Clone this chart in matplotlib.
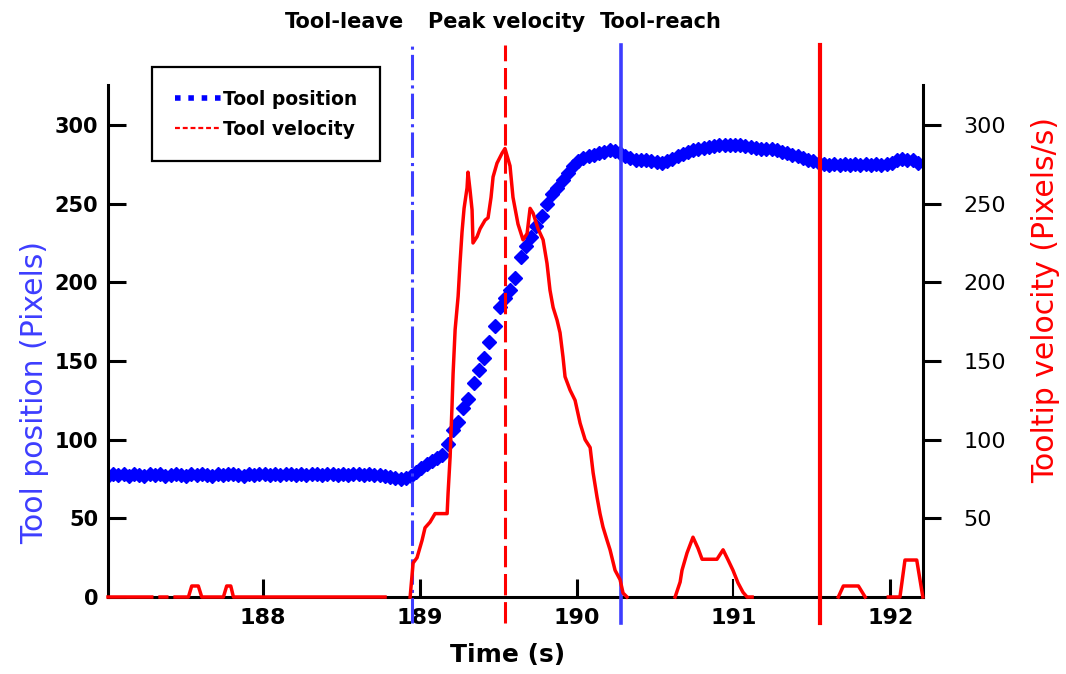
import numpy as np
import matplotlib
matplotlib.use("Agg")
import matplotlib.pyplot as plt
from matplotlib.lines import Line2D
from matplotlib.transforms import blended_transform_factory

nan = float("nan")

# ---------------- data ----------------
# Tool position, sampled at a fixed rate starting at POS_T0 (s)
POS_T0 = 187.01
POS_RATE = 30.0
tool_position = [
    77, 78, 77.5, 78, 77, 78, 77.5, 77, 78, 77.5,
    78, 77, 77.5, 78, 77.5, 77, 78, 77.5, 78, 77.5,
    77, 78, 77.5, 78, 78, 77.5, 77, 78, 77.5, 78,
    78, 77.5, 78, 77.5, 78, 78, 77.5, 78, 77.5, 78,
    78, 77.5, 78, 78, 77.5, 78, 77.5, 78, 78, 77.5,
    78, 77.5, 77.5, 77, 76, 75.5, 75, 75.5, 77, 79.5,
    82, 84.5, 86.5, 88.5, 90, 97, 106, 111, 120, 126,
    136, 144, 152, 162, 172, 184, 190, 195, 203, 216,
    223, 229, 236, 242, 250, 256, 260, 265, 269.5, 274,
    277, 279, 280, 281, 282, 283, 284, 283.5, 282, 280.5,
    279, 278, 277.5, 277.5, 277, 276.5, 276, 277, 278.5, 280,
    281.5, 283, 284, 285, 285.5, 286, 286.5, 287, 287, 287,
    287, 287, 286.5, 286, 285.5, 285, 284.5, 284.5, 284, 283,
    282, 281, 280, 279, 278, 277, 276, 275.5, 274.5, 275,
    274.5, 275, 274.5, 275, 274.5, 275, 274.5, 275, 274.5, 275,
    276, 278, 278.5, 277.5, 278, 276,
]

# Tooltip velocity (time in s, value in pixels/s); NaN separates segments
vel_time = [
    187.011, 187.290, nan,
    187.343, 187.386, nan,
    187.439, 187.524, 187.545, 187.587, 187.609, 187.747, 187.768, 187.794,
    187.811, 188.778, nan,
    188.938, 188.957, 188.982, 189.014, 189.033, 189.065, 189.097, 189.174,
    189.180, 189.193, 189.205, 189.212, 189.225, 189.244, 189.256, 189.269,
    189.282, 189.301, 189.307, 189.320, 189.333, 189.339, 189.365, 189.384,
    189.416, 189.435, 189.454, 189.467, 189.492, 189.524, 189.543, 189.575,
    189.594, 189.626, 189.658, 189.684, 189.703, 189.722, 189.754, 189.786,
    189.811, 189.830, 189.850, 189.875, 189.894, 189.913, 189.926, 189.958,
    189.990, 190.022, 190.054, 190.086, 190.105, 190.130, 190.149, 190.168,
    190.194, 190.213, 190.245, 190.277, 190.296, 190.321, nan,
    190.628, 190.660, 190.672, 190.704, 190.742, 190.774, 190.800, 190.895,
    190.934, 190.966, 190.997, 191.029, 191.061, 191.087, 191.119, nan,
    191.669, 191.701, 191.797, 191.840, nan,
    191.988, 192.062, 192.094, 192.169, 192.208,
]
vel_value = [
    0, 0, nan,
    0, 0, nan,
    0, 0, 7, 7, 0, 0, 7, 7,
    0, 0, nan,
    0, 21.6, 25, 36, 44, 47.6, 53, 53,
    66, 89, 121, 142, 170, 191, 212, 232,
    247, 260, 270, 258.6, 246, 225, 229, 234,
    239.5, 241, 254, 267, 275.7, 282, 285, 274,
    254, 237, 227, 231, 247, 244, 234, 227,
    212, 195, 184, 176, 168, 152.5, 140, 131.5,
    125, 110.5, 100, 95, 79, 63.5, 53, 44.5,
    36, 30, 17, 11, 2.5, 0, nan,
    0, 9.5, 17, 28, 38, 31, 24, 24,
    30, 23.5, 17, 9, 3, 0, 0, nan,
    0, 7, 7, 0, nan,
    0, 0, 23.5, 23.5, 0,
]
assert len(vel_time) == len(vel_value)

# Event markers (s)
t_tool_leave = 188.950
t_peak_velocity = 189.543
t_tool_reach = 190.283
t_end_marker = 191.552

x_ticks = [188, 189, 190, 191, 192]
x_tick_labels = ["188", "189", "190", "191", "192"]
left_ticks = [0, 50, 100, 150, 200, 250, 300]
right_ticks = [50, 100, 150, 200, 250, 300]

# ---------------- figure ----------------
BLUE = "#0000ff"
LINE_BLUE = "#3d3dff"
RED = "#ff0000"

fig = plt.figure(figsize=(10.66, 6.74), dpi=100, facecolor="white")
ax = fig.add_axes([0.10131, 0.11424, 0.76454, 0.75965])
ax2 = ax.twinx()

t_pos = POS_T0 + np.arange(len(tool_position)) / POS_RATE
ax.plot(t_pos, tool_position, linestyle="none", marker="D", ms=7,
        color=BLUE, mec=BLUE, zorder=2)

ax.set_xlim(187.011, 192.209)
ax.set_ylim(0, 325.4)
ax2.set_ylim(0, 325.4)

# vertical event lines (extend beyond the axes box)
y_lo, y_hi = -16.5, 350.9
ax2.plot([t_tool_leave] * 2, [y_lo, y_hi], color=LINE_BLUE, lw=2.2,
         linestyle=(0, (8.3, 1.7, 1.0, 1.7)), clip_on=False, zorder=2)
ax2.plot([t_peak_velocity] * 2, [y_lo, y_hi], color=RED, lw=2.2,
         linestyle=(0, (7.0, 2.2)), clip_on=False, zorder=2)
ax2.plot([t_tool_reach] * 2, [y_lo, y_hi], color=LINE_BLUE, lw=2.6,
         clip_on=False, zorder=2)
ax2.plot([t_end_marker] * 2, [y_lo, y_hi], color=RED, lw=3.0,
         clip_on=False, zorder=2)

# velocity trace
ax2.plot(vel_time, vel_value, color=RED, lw=2.5, clip_on=False, zorder=3)

# ---------------- axes styling ----------------
for a in (ax, ax2):
    a.spines["top"].set_visible(False)
ax.spines["right"].set_visible(False)
ax2.spines["left"].set_visible(False)
ax2.spines["bottom"].set_visible(False)
for s in ("left", "bottom"):
    ax.spines[s].set_linewidth(2.2)
ax2.spines["right"].set_linewidth(2.2)

ax.set_xticks(x_ticks, labels=x_tick_labels, fontsize=16, fontweight="bold")
ax.tick_params(axis="x", direction="in", length=13, width=2.2, pad=8)
ax.xaxis.get_major_ticks()[3].tick1line.set_color("#4f7fbf")
ax.xaxis.get_major_ticks()[3].tick1line.set_markeredgewidth(1.5)

ax.set_yticks(left_ticks, labels=[str(v) for v in left_ticks],
              fontsize=15, fontweight="bold")
ax.tick_params(axis="y", direction="in", length=13, width=2.2, pad=7)

ax2.set_yticks(right_ticks, labels=[str(v) for v in right_ticks], fontsize=16)
ax2.tick_params(axis="y", direction="out", length=13, width=2.2, pad=16)

ax.set_xlabel("Time (s)", fontsize=18, fontweight="bold", va="center")
ax.xaxis.set_label_coords(0.49, -0.113)
ax.set_ylabel("Tool position (Pixels)", fontsize=21.5, color=LINE_BLUE,
              va="center")
ax.yaxis.set_label_coords(-0.09, 0.40)
ax2.set_ylabel("Tooltip velocity (Pixels/s)", fontsize=21.5, color=RED,
               va="center", rotation=90)
ax2.yaxis.set_label_coords(1.15, 0.58)

# event captions above the plot
trans = blended_transform_factory(ax2.transData, fig.transFigure)
ax2.text(188.517, 0.967, "Tool-leave", transform=trans, ha="center",
         va="center", fontsize=15, fontweight="bold")
ax2.text(189.556, 0.967, "Peak velocity", transform=trans, ha="center",
         va="center", fontsize=15, fontweight="bold")
ax2.text(190.538, 0.967, "Tool-reach", transform=trans, ha="center",
         va="center", fontsize=15, fontweight="bold")

# legend
h_pos = Line2D([], [], color=BLUE, lw=4, linestyle=(0, (1, 1.4)))
h_vel = Line2D([], [], color=RED, lw=1.6, linestyle=(0, (2.2, 1.3)))
leg = ax2.legend([h_pos, h_vel], ["Tool position", "Tool velocity"],
                 loc="upper left", bbox_to_anchor=(0.054, 1.035),
                 prop=dict(weight="bold", size=13.5), frameon=True,
                 fancybox=False, edgecolor="black", framealpha=1,
                 handlelength=2.5, handletextpad=0.1, borderpad=1.2,
                 labelspacing=0.6, borderaxespad=0)
leg.get_frame().set_linewidth(1.6)

fig.savefig("out.png", dpi=100, facecolor="white")
